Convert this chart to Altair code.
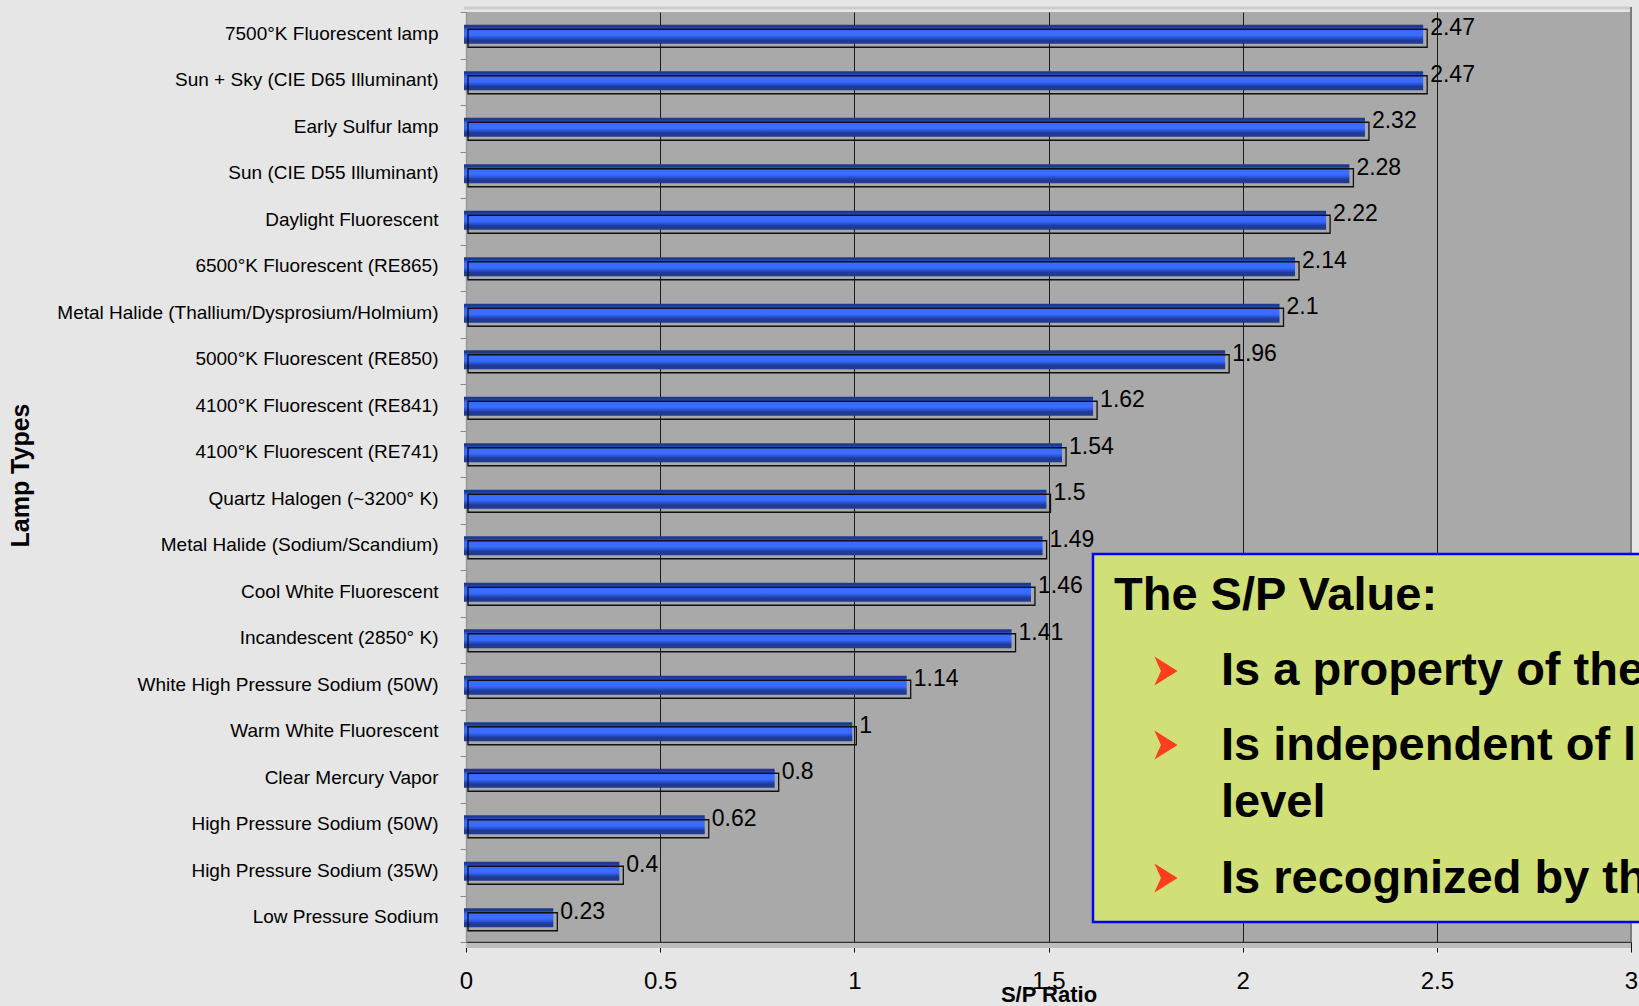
import altair as alt
import pandas as pd

# ---------------- data ----------------
lamps = [
    "7500°K Fluorescent lamp",
    "Sun + Sky (CIE D65 Illuminant)",
    "Early Sulfur lamp",
    "Sun (CIE D55 Illuminant)",
    "Daylight Fluorescent",
    "6500°K Fluorescent (RE865)",
    "Metal Halide (Thallium/Dysprosium/Holmium)",
    "5000°K Fluorescent (RE850)",
    "4100°K Fluorescent (RE841)",
    "4100°K Fluorescent (RE741)",
    "Quartz Halogen (~3200° K)",
    "Metal Halide (Sodium/Scandium)",
    "Cool White Fluorescent",
    "Incandescent (2850° K)",
    "White High Pressure Sodium (50W)",
    "Warm White Fluorescent",
    "Clear Mercury Vapor",
    "High Pressure Sodium (50W)",
    "High Pressure Sodium (35W)",
    "Low Pressure Sodium",
]
sp_ratio = [2.47, 2.47, 2.32, 2.28, 2.22, 2.14, 2.1, 1.96, 1.62, 1.54,
            1.5, 1.49, 1.46, 1.41, 1.14, 1, 0.8, 0.62, 0.4, 0.23]
x_ticks = [0, 0.5, 1, 1.5, 2, 2.5, 3]

box_title = "The S/P Value:"
box_lines = ["Is a property of the lamp", "Is independent of light", "level",
             "Is recognized by the CIE"]

df = pd.DataFrame({"lamp": lamps, "sp": sp_ratio,
                   "label": [f"{v:g}" for v in sp_ratio]})
one = pd.DataFrame({"k": [0]})

NARROW = "Liberation Sans Narrow, Arial Narrow, Liberation Sans, Arial"
SANS = "Liberation Sans, Arial, Helvetica, sans-serif"

W, H = 1165, 930

y_enc = alt.Y(
    "lamp:N", sort=lamps,
    scale=alt.Scale(paddingInner=0, paddingOuter=0),
    axis=alt.Axis(
        title="Lamp Types", titleFont=SANS, titleFontSize=25, titleFontWeight="bold",
        titleColor="black", titleX=-446, titleY=463, titleAngle=270,
        titleAlign="center", titleBaseline="middle",
        labelFont=SANS, labelFontSize=19, labelColor="black", labelPadding=22,
        labelLimit=600, labelOffset=-2,
        tickSize=6, tickColor="#8a8a8a", tickBand="extent",
        domainColor="#9a9a9a", domainWidth=1.5, grid=False,
    ),
)
x_enc = alt.X(
    "sp:Q",
    scale=alt.Scale(domain=[0, 3], nice=False, zero=True),
    axis=alt.Axis(
        title="S/P Ratio", titleFont=SANS, titleFontSize=22, titleFontWeight="bold",
        titleColor="black", titleY=52, titleBaseline="middle",
        values=x_ticks, format="~g",
        labelFont=NARROW, labelFontSize=24, labelColor="black", labelPadding=17,
        labelFlush=False,
        tickSize=10, tickColor="#111111", tickWidth=1,
        domainColor="#333333", domainWidth=1.5,
        grid=True, gridColor="#1a1a1a", gridWidth=1, gridOpacity=1,
    ),
)

base = alt.Chart(df).encode(x=x_enc, y=y_enc)

blue = alt.Gradient(
    gradient="linear", x1=0, x2=0, y1=0, y2=1,
    stops=[
        alt.GradientStop(offset=0.0, color="#1d3a8e"),
        alt.GradientStop(offset=0.12, color="#1d3a8e"),
        alt.GradientStop(offset=0.2, color="#2a55dc"),
        alt.GradientStop(offset=0.32, color="#3a6dff"),
        alt.GradientStop(offset=0.55, color="#3a6dff"),
        alt.GradientStop(offset=0.68, color="#2a52d6"),
        alt.GradientStop(offset=0.8, color="#1f3b92"),
        alt.GradientStop(offset=1.0, color="#1f3b92"),
    ],
)

bars = base.mark_bar(color=blue, size=19, xOffset=-2, x2Offset=-2, yOffset=-1)
outline = base.mark_bar(filled=False, stroke="#111111", strokeWidth=1.3, size=18,
                        xOffset=2, x2Offset=2, yOffset=3)
labels = base.mark_text(align="left", baseline="middle", dx=5, dy=-7,
                        font=NARROW, fontSize=23, color="black").encode(text="label:N")

# 3D wall decorations
top_edge = alt.Chart(one).mark_rule(color="#cdcdcd", strokeWidth=3).encode(
    x=alt.value(-2), x2=alt.value(W + 1), y=alt.value(-4))
right_edge = alt.Chart(one).mark_rule(color="#7c7c7c", strokeWidth=2).encode(
    x=alt.value(W), y=alt.value(-5), y2=alt.value(H))
floor = alt.Chart(one).mark_rect(color="#bdbdbd").encode(
    x=alt.value(0), x2=alt.value(W), y=alt.value(H + 1), y2=alt.value(H + 6))

# annotation box
box = alt.Chart(one).mark_rect(fill="#d0e076", stroke="#0000ff", strokeWidth=2.5).encode(
    x=alt.value(627), x2=alt.value(1250), y=alt.value(542), y2=alt.value(910))


def box_text(txt, x, y):
    return alt.Chart(one).mark_text(
        text=txt, align="left", baseline="alphabetic", font=SANS, fontSize=47,
        fontWeight="bold", color="black").encode(x=alt.value(x), y=alt.value(y))


ARROW = "M -0.8 -1 L 0.8 0 L -0.8 1 L -0.35 0 Z"


def arrow(y):
    return alt.Chart(one).mark_point(
        shape=ARROW, size=841, filled=True, color="#ff3d1f", opacity=1,
        strokeWidth=0).encode(x=alt.value(700), y=alt.value(y))


layers = [floor, top_edge, right_edge, bars, outline, labels, box,
          box_text(box_title, 648, 598),
          box_text(box_lines[0], 755, 673),
          box_text(box_lines[1], 755, 748),
          box_text(box_lines[2], 755, 805),
          box_text(box_lines[3], 755, 881),
          arrow(659), arrow(733), arrow(866)]

chart = alt.layer(*layers).properties(
    width=W, height=H,
    autosize=alt.AutoSizeParams(type="none"),
    padding={"left": 466, "top": 12, "right": 8, "bottom": 64},
    background="#e6e6e6",
).configure_view(fill="#a9a9a9", stroke=None)

chart.save("out.html", embed_options={"renderer": "svg", "actions": False})
